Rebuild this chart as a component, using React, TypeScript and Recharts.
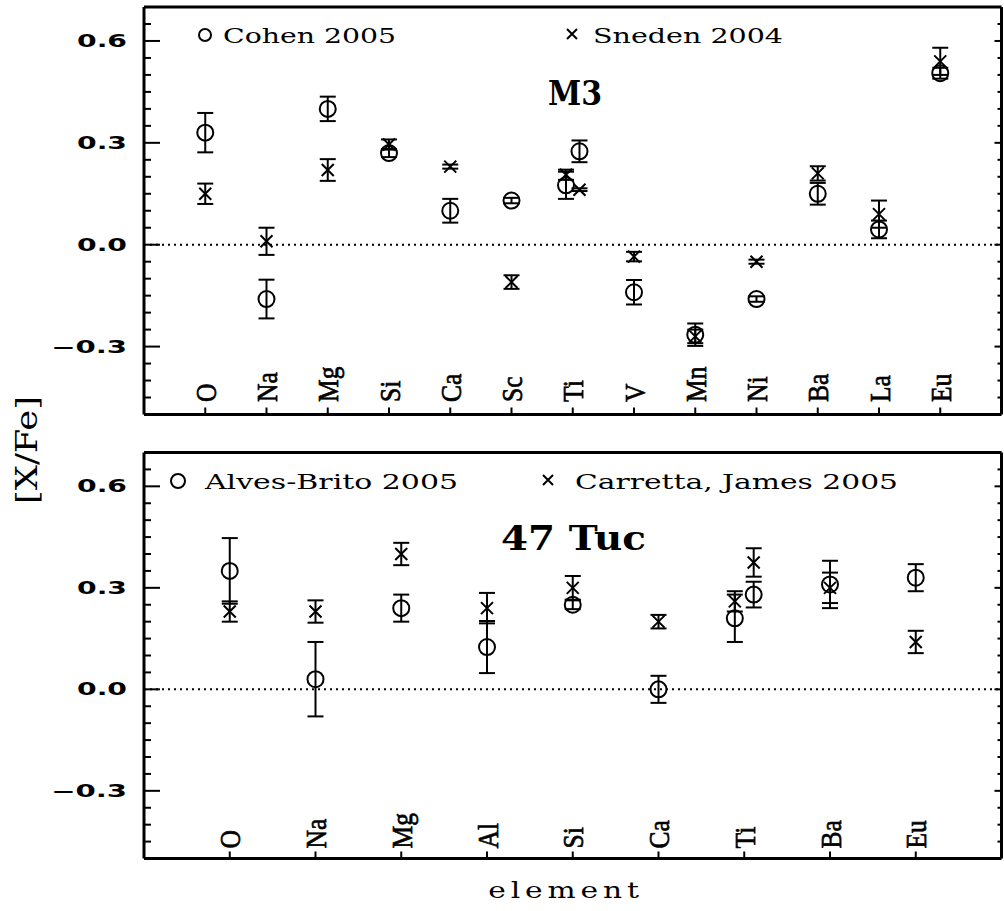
import { ScatterChart, Scatter, XAxis, YAxis, ErrorBar, ReferenceLine } from 'recharts'

// M3 panel
const m3Elements = ['O', 'Na', 'Mg', 'Si', 'Ca', 'Sc', 'Ti', 'V', 'Mn', 'Ni', 'Ba', 'La', 'Eu']
const m3Species = ['O', 'Na', 'Mg', 'Si', 'Ca', 'Sc', 'Ti I', 'Ti II', 'V', 'Mn', 'Ni', 'Ba', 'La', 'Eu']
const cohenValues = [0.33, -0.16, 0.4, 0.27, 0.1, 0.13, 0.175, 0.275, -0.14, -0.265, -0.16, 0.15, 0.045, 0.505]
const cohenErrors = [0.058, 0.057, 0.036, 0.012, 0.035, 0.008, 0.04, 0.032, 0.036, 0.033, 0.008, 0.032, 0.026, 0.016]
const snedenValues = [0.15, 0.01, 0.22, 0.295, 0.23, -0.11, 0.206, 0.162, -0.035, -0.27, -0.05, 0.21, 0.09, 0.54]
const snedenErrors = [0.03, 0.04, 0.032, 0.015, 0.006, 0.02, 0.015, 0.004, 0.014, 0.02, 0.006, 0.021, 0.04, 0.04]

// 47 Tuc panel
const tucElements = ['O', 'Na', 'Mg', 'Al', 'Si', 'Ca', 'Ti', 'Ba', 'Eu']
const tucSpecies = ['O', 'Na', 'Mg', 'Al', 'Si', 'Ca', 'Ti I', 'Ti II', 'Ba', 'Eu']
const alvesValues = [0.35, 0.03, 0.24, 0.125, 0.25, 0.0, 0.21, 0.28, 0.31, 0.33]
const alvesErrors = [0.097, 0.11, 0.04, 0.077, 0.013, 0.04, 0.07, 0.038, 0.07, 0.04]
const carrettaValues = [0.23, 0.23, 0.4, 0.24, 0.3, 0.2, 0.26, 0.375, 0.3, 0.14]
const carrettaErrors = [0.03, 0.033, 0.033, 0.045, 0.035, 0.02, 0.03, 0.042, 0.045, 0.033]

const majorTicks = [-0.3, 0, 0.3, 0.6]
const yTicks = [-0.45, -0.4, -0.35, -0.3, -0.25, -0.2, -0.15, -0.1, -0.05, 0, 0.05, 0.1, 0.15, 0.2, 0.25, 0.3, 0.35, 0.4, 0.45, 0.5, 0.55, 0.6, 0.65]
const yDomain = [-0.5, 0.7]

const ION_SHIFT = 0.11

function buildPoints(elements: string[], species: string[], values: number[], errors: number[]) {
  return species.map((s, i) => {
    const [el, ion] = s.split(' ')
    const shift = ion === 'I' ? -ION_SHIFT : ion === 'II' ? ION_SHIFT : 0
    return { x: elements.indexOf(el) + 1 + shift, y: values[i], err: errors[i] }
  })
}

const fmt = (v: number) => v.toFixed(1).replace('-', '\u2212')

const renderCircle = (p: any) => (
  <circle cx={p.cx} cy={p.cy} r={8} fill="none" stroke="#000" strokeWidth={2} />
)
const renderCross = (p: any) => (
  <path
    d={`M${p.cx - 6},${p.cy - 6}L${p.cx + 6},${p.cy + 6}M${p.cx - 6},${p.cy + 6}L${p.cx + 6},${p.cy - 6}`}
    stroke="#000"
    strokeWidth={2}
    fill="none"
  />
)

function LeftTick({ x, y, payload }: any) {
  const major = majorTicks.includes(payload.value)
  const label = fmt(payload.value)
  return (
    <g>
      <line x1={x} y1={y} x2={x + (major ? 16 : 7)} y2={y} stroke="#000" strokeWidth={2} />
      {major && (
        <text
          x={x - 17}
          y={y}
          dy="0.36em"
          textAnchor="end"
          fontFamily="DejaVu Sans"
          fontWeight="bold"
          fontSize={17}
          textLength={label.length > 3 ? 76 : 50}
          lengthAdjust="spacingAndGlyphs"
          fill="#000"
        >
          {label}
        </text>
      )}
    </g>
  )
}

function RightTick({ x, y, payload }: any) {
  const major = majorTicks.includes(payload.value)
  return <line x1={x} y1={y} x2={x - (major ? 7 : 4)} y2={y} stroke="#000" strokeWidth={2} />
}

function TopTick({ x, y }: any) {
  return <line x1={x} y1={y} x2={x} y2={y + 7} stroke="#000" strokeWidth={2} />
}

function ElementTick({ x, y, payload, elements, lift }: any) {
  const label = elements[payload.value - 1]
  const ty = y - lift
  return (
    <g>
      <line x1={x} y1={y} x2={x} y2={y - 7} stroke="#000" strokeWidth={2} />
      <text
        x={0}
        y={0}
        dy="0.35em"
        transform={`translate(${x} ${ty}) rotate(-90) scale(0.85 1)`}
        textAnchor="start"
        fontFamily="Liberation Serif"
        fontSize={30}
        fill="#000"
        stroke="#000"
        strokeWidth={0.7}
      >
        {label}
      </text>
    </g>
  )
}

const frame = { stroke: '#000', strokeWidth: 3 }

function Panel({ elements, circles, crosses, top, height, margin, lift }: any) {
  const xTicks = elements.map((_: string, i: number) => i + 1)
  const xDomain = [0, elements.length + 1]
  return (
    <div style={{ position: 'absolute', left: 0, top, width: 1004, height }}>
      <ScatterChart width={1004} height={height} margin={margin}>
        <XAxis
          xAxisId="x"
          type="number"
          dataKey="x"
          domain={xDomain}
          ticks={xTicks}
          allowDataOverflow
          interval={0}
          height={1}
          tickSize={0}
          tickMargin={0}
          tickLine={false}
          axisLine={frame}
          tick={(p: any) => <ElementTick {...p} elements={elements} lift={lift} />}
        />
        <XAxis
          xAxisId="xt"
          orientation="top"
          type="number"
          domain={xDomain}
          ticks={xTicks}
          allowDataOverflow
          interval={0}
          height={1}
          tickSize={0}
          tickMargin={0}
          tickLine={false}
          axisLine={frame}
          tick={(p: any) => <TopTick {...p} />}
        />
        <YAxis
          yAxisId="y"
          type="number"
          dataKey="y"
          domain={yDomain}
          ticks={yTicks}
          allowDataOverflow
          interval={0}
          width={144}
          tickSize={0}
          tickMargin={0}
          tickLine={false}
          axisLine={frame}
          tick={(p: any) => <LeftTick {...p} />}
        />
        <YAxis
          yAxisId="yr"
          orientation="right"
          type="number"
          domain={yDomain}
          ticks={yTicks}
          allowDataOverflow
          interval={0}
          width={2}
          tickSize={0}
          tickMargin={0}
          tickLine={false}
          axisLine={frame}
          tick={(p: any) => <RightTick {...p} />}
        />
        <ReferenceLine xAxisId="x" yAxisId="y" y={0} stroke="#000" strokeWidth={2} strokeDasharray="2 4" />
        <Scatter xAxisId="x" yAxisId="y" data={circles} shape={renderCircle} isAnimationActive={false}>
          <ErrorBar dataKey="err" direction="y" width={8} stroke="#000" strokeWidth={2} isAnimationActive={false} />
        </Scatter>
        <Scatter xAxisId="x" yAxisId="y" data={crosses} shape={renderCross} isAnimationActive={false}>
          <ErrorBar dataKey="err" direction="y" width={8} stroke="#000" strokeWidth={2} isAnimationActive={false} />
        </Scatter>
      </ScatterChart>
    </div>
  )
}

const serif = 'DejaVu Serif'

export default function App() {
  const cohen = buildPoints(m3Elements, m3Species, cohenValues, cohenErrors)
  const sneden = buildPoints(m3Elements, m3Species, snedenValues, snedenErrors)
  const alves = buildPoints(tucElements, tucSpecies, alvesValues, alvesErrors)
  const carretta = buildPoints(tucElements, tucSpecies, carrettaValues, carrettaErrors)

  return (
    <div style={{ position: 'absolute', left: 0, top: 0, width: 1004, height: 911, background: '#fff' }}>
      <Panel
        elements={m3Elements}
        circles={cohen}
        crosses={sneden}
        top={0}
        height={430}
        margin={{ top: 6, right: 0.5, bottom: 14.5, left: 0 }}
        lift={12.5}
      />
      <Panel
        elements={tucElements}
        circles={alves}
        crosses={carretta}
        top={440}
        height={471}
        margin={{ top: 11.5, right: 0.5, bottom: 51.5, left: 0 }}
        lift={10}
      />
      <svg width={1004} height={911} style={{ position: 'absolute', left: 0, top: 0, pointerEvents: 'none' }}>
        <g fill="#000" fontFamily={serif}>
          <circle cx={205} cy={35} r={6} fill="none" stroke="#000" strokeWidth={2} />
          <text x={223} y={43} fontSize={21} textLength={173} lengthAdjust="spacingAndGlyphs">Cohen 2005</text>
          <path d="M567,29L577,39M567,39L577,29" stroke="#000" strokeWidth={2} />
          <text x={593} y={43} fontSize={21} textLength={190} lengthAdjust="spacingAndGlyphs">Sneden 2004</text>
          <text x={575} y={105} fontSize={34} fontWeight="bold" textAnchor="middle" textLength={54} lengthAdjust="spacingAndGlyphs">M3</text>

          <circle cx={178} cy={481} r={7} fill="none" stroke="#000" strokeWidth={2} />
          <text x={205} y={489} fontSize={21} textLength={253} lengthAdjust="spacingAndGlyphs">Alves-Brito 2005</text>
          <path d="M543,475L553,485M543,485L553,475" stroke="#000" strokeWidth={2} />
          <text x={575} y={489} fontSize={21} textLength={323} lengthAdjust="spacingAndGlyphs">Carretta, James 2005</text>
          <text x={573.5} y={550} fontSize={34} fontWeight="bold" textAnchor="middle" textLength={145} lengthAdjust="spacingAndGlyphs">47 Tuc</text>

          <text
            x={26}
            y={450}
            dy="0.35em"
            transform="rotate(-90 26 450)"
            fontSize={30}
            textAnchor="middle"
            textLength={108}
            lengthAdjust="spacingAndGlyphs"
          >
            [X/Fe]
          </text>
          <text
            x={0}
            y={0}
            transform="translate(566 898) scale(1.35 1)"
            fontSize={22}
            letterSpacing={3.6}
            textAnchor="middle"
          >
            element
          </text>
        </g>
      </svg>
    </div>
  )
}
